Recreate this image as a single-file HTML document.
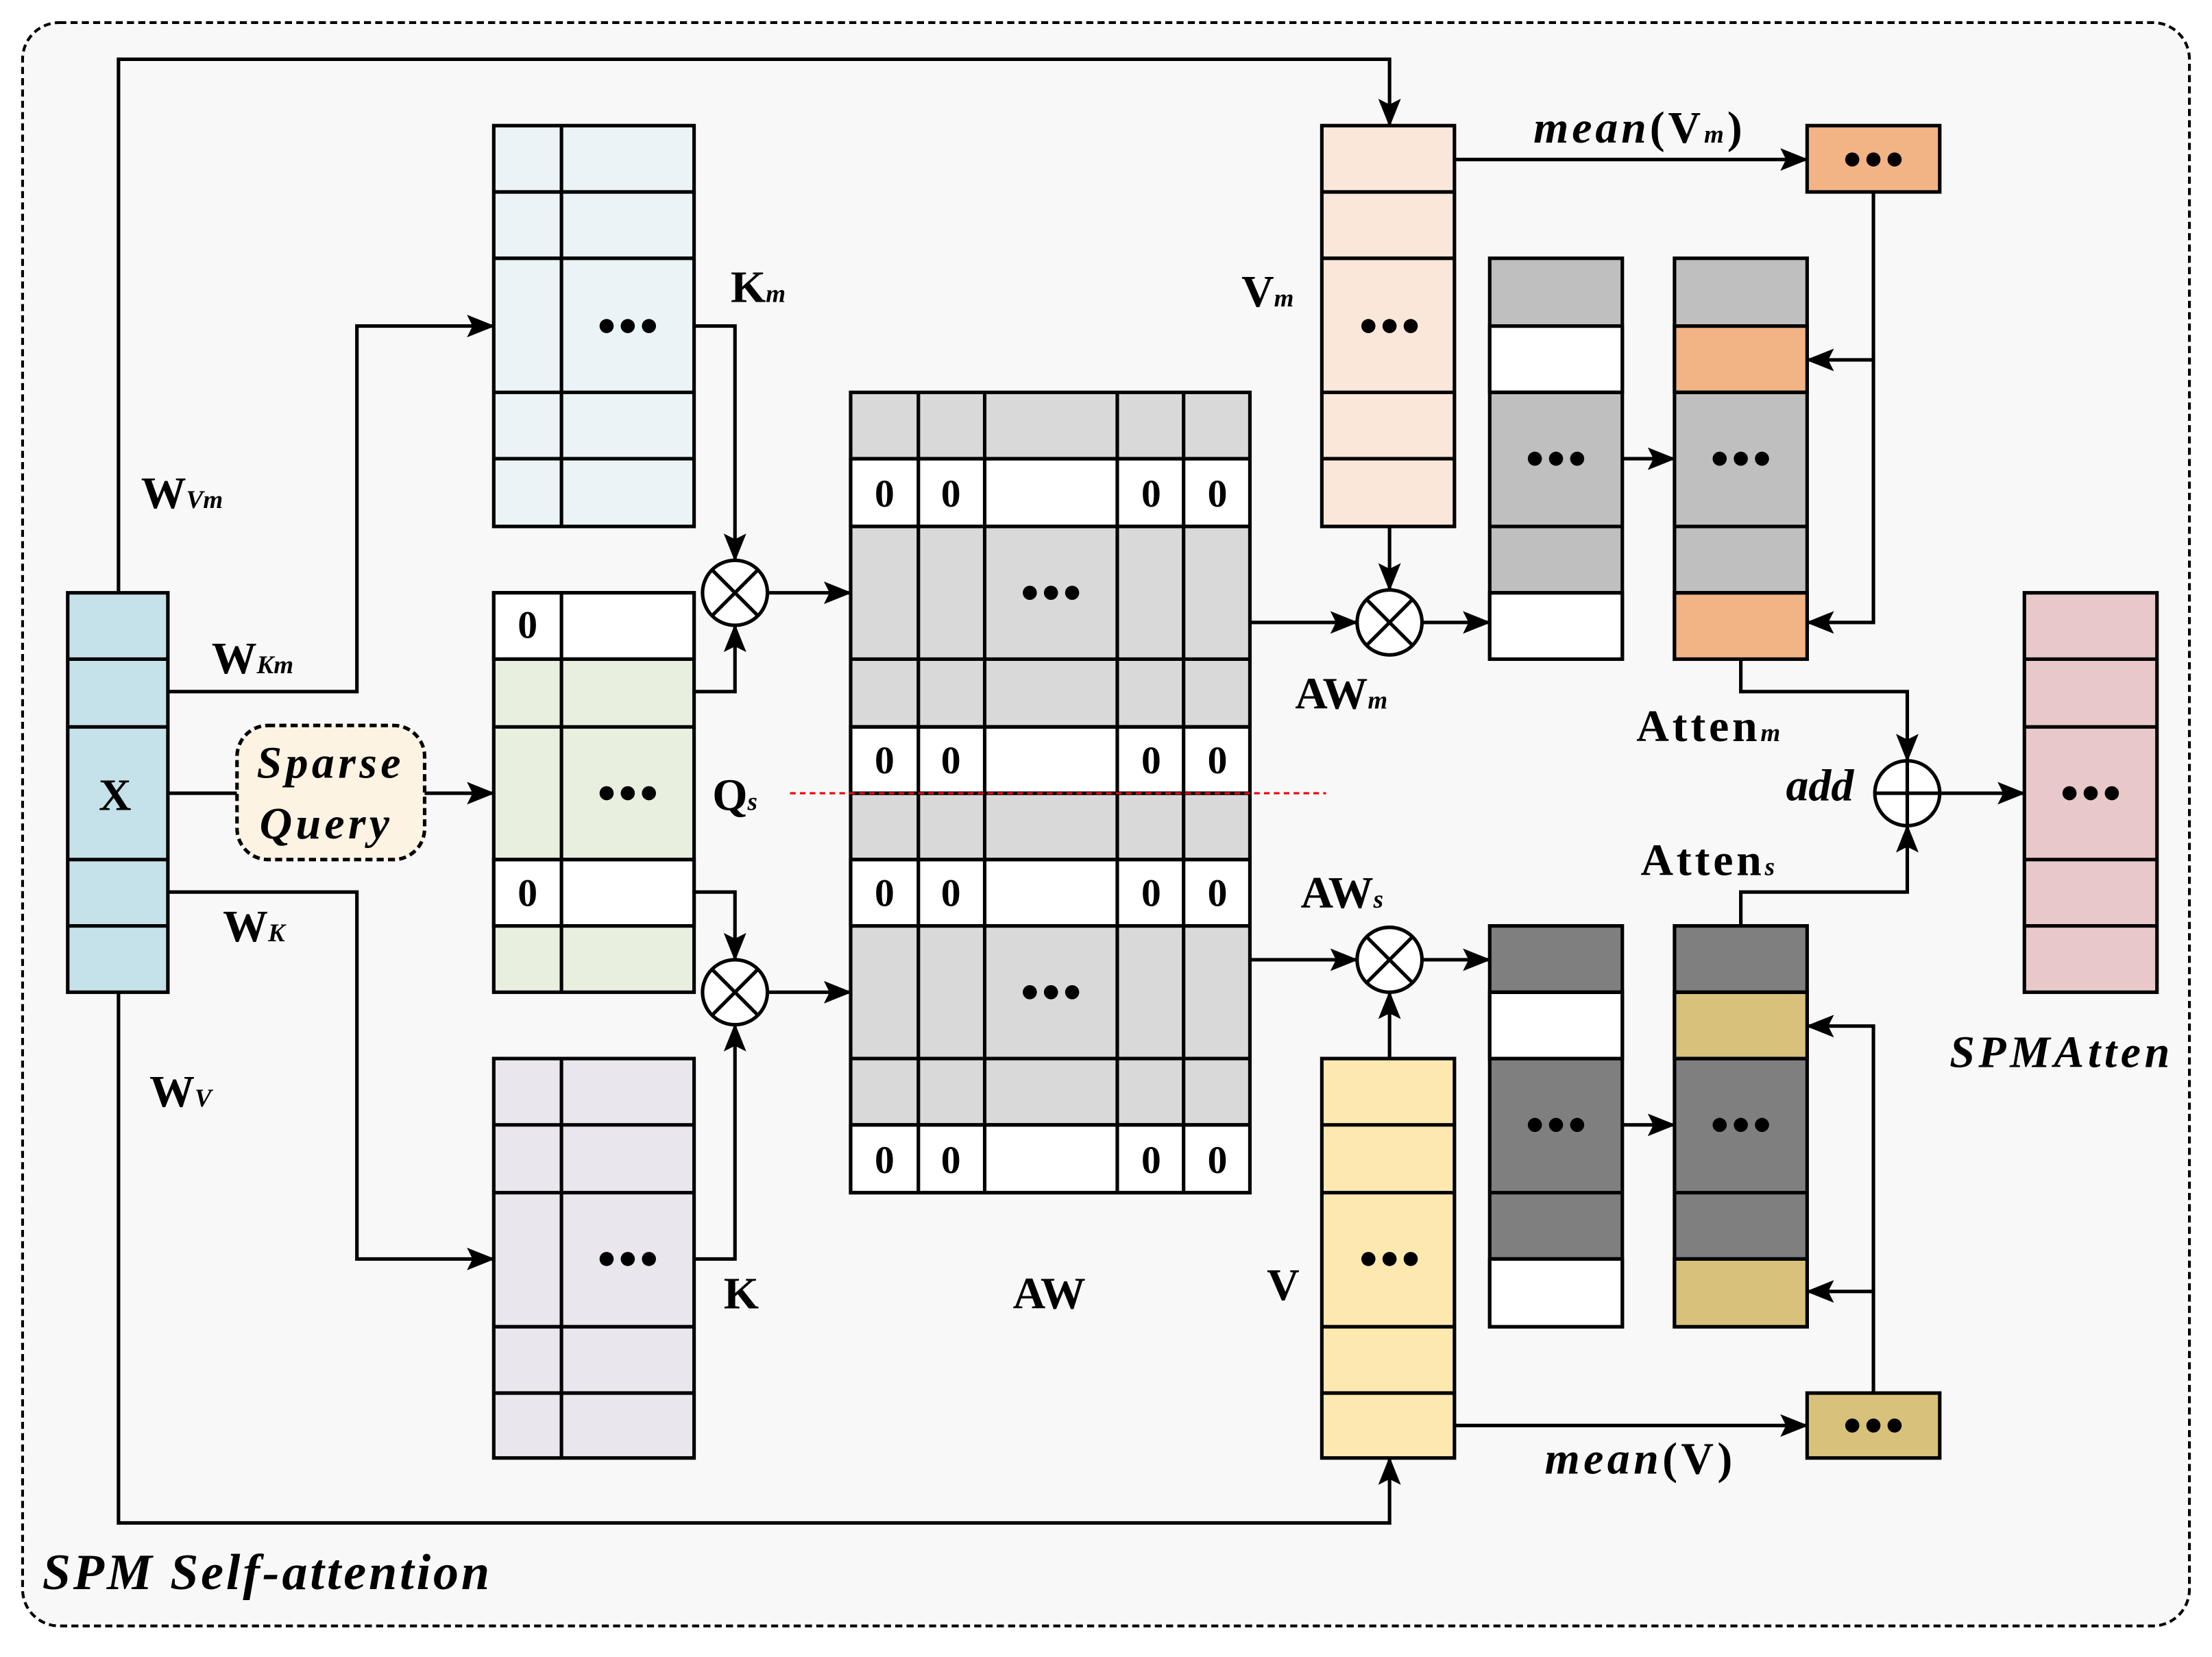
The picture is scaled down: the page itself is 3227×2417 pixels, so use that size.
<!DOCTYPE html>
<html><head><meta charset="utf-8"><style>
html,body{margin:0;padding:0;background:#fff;}
svg{display:block;}
text{font-family:"Liberation Serif",serif;font-weight:bold;}
</style></head><body>
<svg width="3227" height="2417" viewBox="0 0 1568 1174" preserveAspectRatio="none" xmlns="http://www.w3.org/2000/svg">
<defs>
<marker id="b" markerWidth="20" markerHeight="16" refX="19" refY="8" orient="auto" markerUnits="userSpaceOnUse" viewBox="0 0 20 16"><path d="M0,0 L20,8 L0,16 L4,8 z" fill="#000"/></marker>
<g id="d"><circle cx="-15" cy="0" r="5"/><circle cx="0" cy="0" r="5"/><circle cx="15" cy="0" r="5"/></g>
</defs>
<rect x="16" y="16" width="1536" height="1136" rx="26" fill="#f8f8f8" stroke="#000" stroke-width="2" stroke-dasharray="5,3"/>
<g stroke="#000" stroke-width="2.5" fill="none">
<polyline points="84,420 84,42 985,42 985,89" marker-end="url(#b)"/>
<polyline points="84,703 84,1079 985,1079 985,1033" marker-end="url(#b)"/>
<polyline points="119,490 253,490 253,231 350,231" marker-end="url(#b)"/>
<polyline points="119,632 253,632 253,892 350,892" marker-end="url(#b)"/>
<line x1="119" y1="562" x2="168" y2="562"/>
<line x1="301" y1="562" x2="350" y2="562" marker-end="url(#b)"/>
<polyline points="492,231 521,231 521,397" marker-end="url(#b)"/>
<polyline points="492,490 521,490 521,443" marker-end="url(#b)"/>
<polyline points="492,632 521,632 521,680" marker-end="url(#b)"/>
<polyline points="492,892 521,892 521,726" marker-end="url(#b)"/>
<line x1="544" y1="420" x2="603" y2="420" marker-end="url(#b)"/>
<line x1="544" y1="703" x2="603" y2="703" marker-end="url(#b)"/>
<line x1="886" y1="441" x2="962" y2="441" marker-end="url(#b)"/>
<line x1="886" y1="680" x2="962" y2="680" marker-end="url(#b)"/>
<line x1="985" y1="373" x2="985" y2="418" marker-end="url(#b)"/>
<line x1="985" y1="750" x2="985" y2="703" marker-end="url(#b)"/>
<line x1="1008" y1="441" x2="1056" y2="441" marker-end="url(#b)"/>
<line x1="1008" y1="680" x2="1056" y2="680" marker-end="url(#b)"/>
<line x1="1150" y1="325" x2="1187" y2="325" marker-end="url(#b)"/>
<line x1="1150" y1="797" x2="1187" y2="797" marker-end="url(#b)"/>
<line x1="1031" y1="113" x2="1281" y2="113" marker-end="url(#b)"/>
<line x1="1031" y1="1010" x2="1281" y2="1010" marker-end="url(#b)"/>
<polyline points="1328,136 1328,441 1281,441" marker-end="url(#b)"/>
<polyline points="1328,255 1281,255" marker-end="url(#b)"/>
<polyline points="1328,987 1328,727 1281,727" marker-end="url(#b)"/>
<polyline points="1328,915 1281,915" marker-end="url(#b)"/>
<polyline points="1234,467 1234,490 1352,490 1352,539" marker-end="url(#b)"/>
<polyline points="1234,656 1234,632 1352,632 1352,585" marker-end="url(#b)"/>
<line x1="1375" y1="562" x2="1435" y2="562" marker-end="url(#b)"/>
</g>
<g stroke="#000" stroke-width="2.5">
<rect x="48" y="420" width="71" height="283" fill="#c5e1ea"/>
<path d="M48,467H119M48,515H119M48,609H119M48,656H119" fill="none"/>
<rect x="350" y="89" width="142" height="284" fill="#eaf3f5"/>
<path d="M398,89V373M350,136H492M350,183H492M350,278H492M350,325H492" fill="none"/>
<rect x="350" y="420" width="142" height="283" fill="#e9efdf"/>
<rect x="350" y="420" width="142" height="47" fill="#fff"/>
<rect x="350" y="609" width="142" height="47" fill="#fff"/>
<path d="M398,420V703M350,467H492M350,515H492M350,609H492M350,656H492" fill="none"/>
<rect x="350" y="750" width="142" height="283" fill="#e9e6ee"/>
<path d="M398,750V1033M350,797H492M350,845H492M350,940H492M350,987H492" fill="none"/>
<rect x="603" y="278" width="283" height="567" fill="#d9d9d9"/>
<rect x="603" y="325" width="283" height="48" fill="#fff"/>
<rect x="603" y="515" width="283" height="47" fill="#fff"/>
<rect x="603" y="609" width="283" height="47" fill="#fff"/>
<rect x="603" y="797" width="283" height="48" fill="#fff"/>
<path d="M651,278V845M698,278V845M792,278V845M839,278V845M603,325H886M603,373H886M603,467H886M603,515H886M603,562H886M603,609H886M603,656H886M603,750H886M603,797H886" fill="none"/>
<rect x="937" y="89" width="94" height="284" fill="#fbe7d9"/>
<path d="M937,136H1031M937,183H1031M937,278H1031M937,325H1031" fill="none"/>
<rect x="937" y="750" width="94" height="283" fill="#fde9b0"/>
<path d="M937,797H1031M937,845H1031M937,940H1031M937,987H1031" fill="none"/>
<rect x="1281" y="89" width="94" height="47" fill="#f2b385"/>
<rect x="1281" y="987" width="94" height="46" fill="#d8c27b"/>
<rect x="1056" y="183" width="94" height="284" fill="#bfbfbf"/>
<rect x="1056" y="231" width="94" height="47" fill="#fff"/>
<rect x="1056" y="420" width="94" height="47" fill="#fff"/>
<path d="M1056,231H1150M1056,278H1150M1056,373H1150M1056,420H1150" fill="none"/>
<rect x="1187" y="183" width="94" height="284" fill="#bfbfbf"/>
<rect x="1187" y="231" width="94" height="47" fill="#f2b385"/>
<rect x="1187" y="420" width="94" height="47" fill="#f2b385"/>
<path d="M1187,231H1281M1187,278H1281M1187,373H1281M1187,420H1281" fill="none"/>
<rect x="1056" y="656" width="94" height="284" fill="#7f7f7f"/>
<rect x="1056" y="703" width="94" height="47" fill="#fff"/>
<rect x="1056" y="892" width="94" height="48" fill="#fff"/>
<path d="M1056,703H1150M1056,750H1150M1056,845H1150M1056,892H1150" fill="none"/>
<rect x="1187" y="656" width="94" height="284" fill="#7f7f7f"/>
<rect x="1187" y="703" width="94" height="47" fill="#d8c27b"/>
<rect x="1187" y="892" width="94" height="48" fill="#d8c27b"/>
<path d="M1187,703H1281M1187,750H1281M1187,845H1281M1187,892H1281" fill="none"/>
<rect x="1435" y="420" width="94" height="283" fill="#e8c8c8"/>
<path d="M1435,467H1529M1435,515H1529M1435,609H1529M1435,656H1529" fill="none"/>
<rect x="168" y="514" width="133" height="95" rx="22" fill="#fdf3e3" stroke-dasharray="5,3"/>
<g fill="#fff">
<circle cx="521" cy="420" r="23"/><circle cx="521" cy="703" r="23"/>
<circle cx="985" cy="441" r="23"/><circle cx="985" cy="680" r="23"/>
<circle cx="1352" cy="562" r="23"/>
</g>
<path d="M505,404L537,436M537,404L505,436M505,687L537,719M537,687L505,719M969,425L1001,457M1001,425L969,457M969,664L1001,696M1001,664L969,696M1352,539V585M1329,562H1375" fill="none"/>
</g>
<line x1="560" y1="562" x2="940" y2="562" stroke="#e00" stroke-width="1.5" stroke-dasharray="4,3"/>
<g fill="#000">
<use href="#d" x="445" y="231"/><use href="#d" x="445" y="562"/><use href="#d" x="445" y="892"/>
<use href="#d" x="745" y="420"/><use href="#d" x="745" y="703"/>
<use href="#d" x="985" y="231"/><use href="#d" x="985" y="892"/>
<use href="#d" x="1328" y="113"/><use href="#d" x="1328" y="1010"/>
<use href="#d" x="1103" y="325"/><use href="#d" x="1234" y="325"/>
<use href="#d" x="1103" y="797"/><use href="#d" x="1234" y="797"/>
<use href="#d" x="1482" y="562"/>
</g>
<g font-size="28" text-anchor="middle">
<text x="374" y="452">0</text><text x="374" y="642">0</text>
<text x="627" y="359">0</text><text x="674" y="359">0</text><text x="816" y="359">0</text><text x="863" y="359">0</text>
<text x="627" y="548">0</text><text x="674" y="548">0</text><text x="816" y="548">0</text><text x="863" y="548">0</text>
<text x="627" y="642">0</text><text x="674" y="642">0</text><text x="816" y="642">0</text><text x="863" y="642">0</text>
<text x="627" y="831">0</text><text x="674" y="831">0</text><text x="816" y="831">0</text><text x="863" y="831">0</text>
</g>
<g font-size="32">
<text x="70" y="574">X</text>
<text x="100" y="360">W<tspan font-size="18" font-style="italic">Vm</tspan></text>
<text x="150" y="477">W<tspan font-size="18" font-style="italic">Km</tspan></text>
<text x="158" y="667">W<tspan font-size="18" font-style="italic">K</tspan></text>
<text x="106" y="784">W<tspan font-size="18" font-style="italic">V</tspan></text>
<text x="518" y="214">K<tspan font-size="18" font-style="italic">m</tspan></text>
<text x="505" y="574">Q<tspan font-size="18" font-style="italic">s</tspan></text>
<text x="513" y="927">K</text>
<text x="718" y="927">AW</text>
<text x="880" y="217">V<tspan font-size="18" font-style="italic">m</tspan></text>
<text x="898" y="921">V</text>
<text x="918" y="502">AW<tspan font-size="18" font-style="italic">m</tspan></text>
<text x="922" y="643">AW<tspan font-size="18" font-style="italic">s</tspan></text>
<text x="1087" y="101" textLength="148"><tspan font-style="italic">mean</tspan>(V<tspan font-size="18" font-style="italic">m</tspan>)</text>
<text x="1095" y="1044" textLength="133"><tspan font-style="italic">mean</tspan>(V)</text>
<text x="1160" y="525" textLength="102">Atten<tspan font-size="18" font-style="italic">m</tspan></text>
<text x="1163" y="620" textLength="95">Atten<tspan font-size="18" font-style="italic">s</tspan></text>
<text x="1266" y="567" font-style="italic">add</text>
<text x="1382" y="756" font-style="italic" textLength="156">SPMAtten</text>
<text x="182" y="551" font-style="italic" textLength="102">Sparse</text>
<text x="184" y="594" font-style="italic" textLength="92">Query</text>
<text x="30" y="1126" font-size="36" font-style="italic" textLength="317">SPM Self-attention</text>
</g>
</svg>
</body></html>
